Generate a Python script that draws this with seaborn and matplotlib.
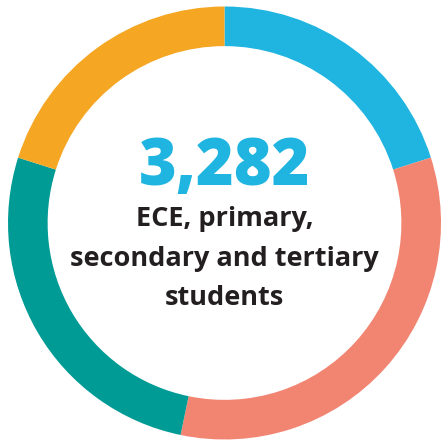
import matplotlib
matplotlib.use("Agg")
import matplotlib.pyplot as plt
import seaborn as sns

sns.set_theme(style="white")
plt.rcParams['font.family'] = ['Open Sans', 'DejaVu Sans']

# Data
categories = ["Segment A", "Segment B", "Segment C", "Segment D"]
shares = [20.1, 33.1, 26.6, 20.1]
colors = ["#1fb5e0", "#f28572", "#009b94", "#f5a623"]
total_label = "3,282"
caption_lines = ["ECE, primary,", "secondary and tertiary", "students"]

fig = plt.figure(figsize=(4.41, 4.41), dpi=100)
ax = fig.add_axes([0, 0, 1, 1])
ax.pie(shares, colors=colors, startangle=90, counterclock=False,
       radius=1.0, wedgeprops=dict(width=0.183, linewidth=0))
ax.set_aspect('equal')
ax.set_xlim(-1.037, 1.0)
ax.set_ylim(-1.007, 1.030)
ax.axis('off')

ax.text(0, 0.176, total_label, ha='center', va='baseline', fontsize=46.5,
        fontweight='heavy', color="#1fb5e0")
ys = [-0.014, -0.199, -0.379]
for line, y in zip(caption_lines, ys):
    ax.text(0, y, line, ha='center', va='baseline', fontsize=19.5,
            fontweight='bold', color="#231f20")

fig.savefig("out.png", dpi=100, facecolor="white")
